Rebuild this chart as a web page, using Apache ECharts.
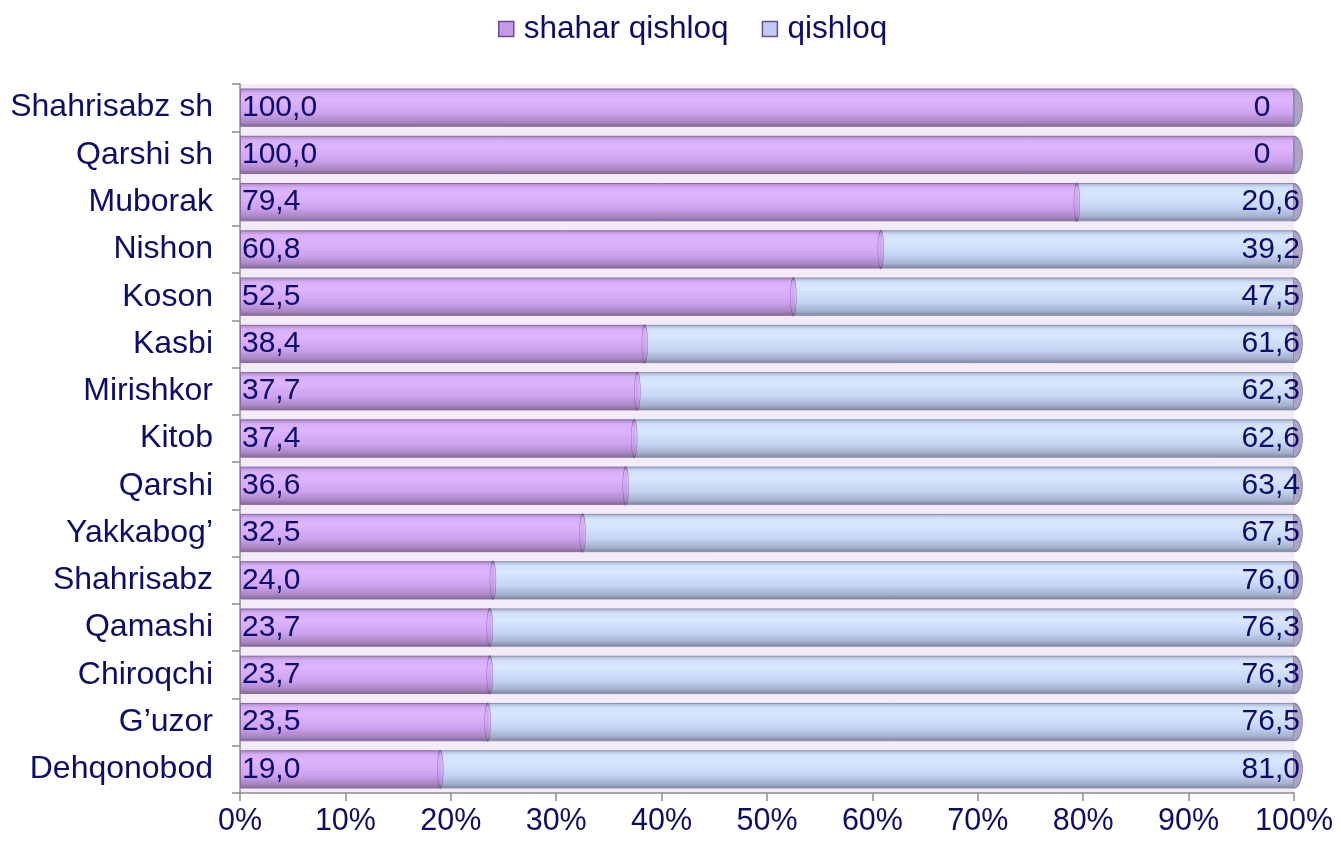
<!DOCTYPE html>
<html>
<head>
<meta charset="utf-8">
<script src="https://cdn.jsdelivr.net/npm/echarts@6/dist/echarts.min.js"></script>
<style>html,body{margin:0;padding:0;background:#fff}#c{width:1341px;height:843px}</style>
</head>
<body>
<div id="c"></div>
<script>
var categories = ['Shahrisabz sh','Qarshi sh','Muborak','Nishon','Koson','Kasbi','Mirishkor','Kitob','Qarshi','Yakkabog\u2019','Shahrisabz','Qamashi','Chiroqchi','G\u2019uzor','Dehqonobod'];
var shaharQishloq = [100.0,100.0,79.4,60.8,52.5,38.4,37.7,37.4,36.6,32.5,24.0,23.7,23.7,23.5,19.0];
var qishloq = [0,0,20.6,39.2,47.5,61.6,62.3,62.6,63.4,67.5,76.0,76.3,76.3,76.5,81.0];
var xTicks = [0,10,20,30,40,50,60,70,80,90,100];
var seriesNames = ['shahar qishloq','qishloq'];

var txt = '#0C0C6A';
var font = 'Liberation Sans, Arial, sans-serif';
function fmt(v){ return v === 0 ? '0' : v.toFixed(1).replace('.', ','); }
function grad(stops){
  return new echarts.graphic.LinearGradient(0,0,0,1,stops.map(function(s){return {offset:s[0],color:s[1]};}));
}
var purple = grad([[0,'#A886C4'],[0.12,'#D6AEF6'],[0.3,'#DEB4FF'],[0.65,'#CDA2EE'],[0.88,'#A987C2'],[1,'#7E6494']]);
var blue = grad([[0,'#A4B2CF'],[0.12,'#D2E0FA'],[0.3,'#D8E6FF'],[0.65,'#C5D4F2'],[0.88,'#A3AFCB'],[1,'#77809B']]);

var chart = echarts.init(document.getElementById('c'));
chart.setOption({
  animation:false,
  textStyle:{fontFamily:font},
  legend:{
    top:8, left:493, itemWidth:15, itemHeight:15, itemGap:33, icon:'rect',
    data:[
      {name:seriesNames[0], itemStyle:{color:'#C59AE6', borderColor:'#6E4A96', borderWidth:1.5}},
      {name:seriesNames[1], itemStyle:{color:'#BCCDF0', borderColor:'#6E4A96', borderWidth:1.5}}
    ],
    textStyle:{color:txt, fontSize:31.5, fontFamily:font, padding:[0,0,0,5]}
  },
  grid:{left:240, right:47, top:84, bottom:50, show:true, backgroundColor:'#F3ECF8', borderWidth:0},
  xAxis:{
    type:'value', min:0, max:100, interval:10,
    axisLine:{show:true, lineStyle:{color:'#8C8C8C', width:1.5}},
    axisTick:{show:true, length:8, lineStyle:{color:'#8C8C8C', width:1.5}},
    splitLine:{show:false},
    axisLabel:{color:txt, fontSize:30.5, margin:13, formatter:'{value}%'}
  },
  yAxis:{
    type:'category', data:categories, inverse:true,
    axisLine:{show:true, lineStyle:{color:'#8C8C8C', width:1.5}},
    axisTick:{show:true, length:8, lineStyle:{color:'#8C8C8C', width:1.5}},
    axisLabel:{color:txt, fontSize:32, margin:27}
  },
  series:[
    {
      name:'cap', type:'scatter', z:1, silent:true, legendHoverLink:false,
      data:categories.map(function(c){return [100, c];}),
      symbol:'circle', symbolSize:[17,37],
      itemStyle:{color:'#9A8CB2', borderColor:'#6F6088', borderWidth:1}
    },
    {
      name:seriesNames[0], type:'bar', stack:'t', z:2, barCategoryGap:'19%',
      data:shaharQishloq,
      itemStyle:{color:purple, borderColor:'#8A6AA4', borderWidth:1},
      label:{show:true, position:'insideLeft', distance:2, color:txt, fontSize:30, formatter:function(p){return fmt(p.value);}}
    },
    {
      name:seriesNames[1], type:'bar', stack:'t', z:2,
      data:qishloq.map(function(v){ return v === 0 ? {value:v, label:{offset:[-30,0]}} : v; }),
      itemStyle:{color:blue, borderColor:'#8C90AE', borderWidth:1},
      label:{show:true, position:'insideRight', distance:-6, color:txt, fontSize:30, formatter:function(p){return fmt(p.value);}}
    },
    {
      name:'split', type:'scatter', z:3, silent:true,
      data:shaharQishloq.map(function(v,i){ return v >= 100 ? [ '-', categories[i] ] : [v, categories[i]]; }),
      symbol:'circle', symbolSize:[6,37],
      itemStyle:{color:purple, borderColor:'#6E5290', borderWidth:1}
    }
  ]
});
</script>
</body>
</html>
